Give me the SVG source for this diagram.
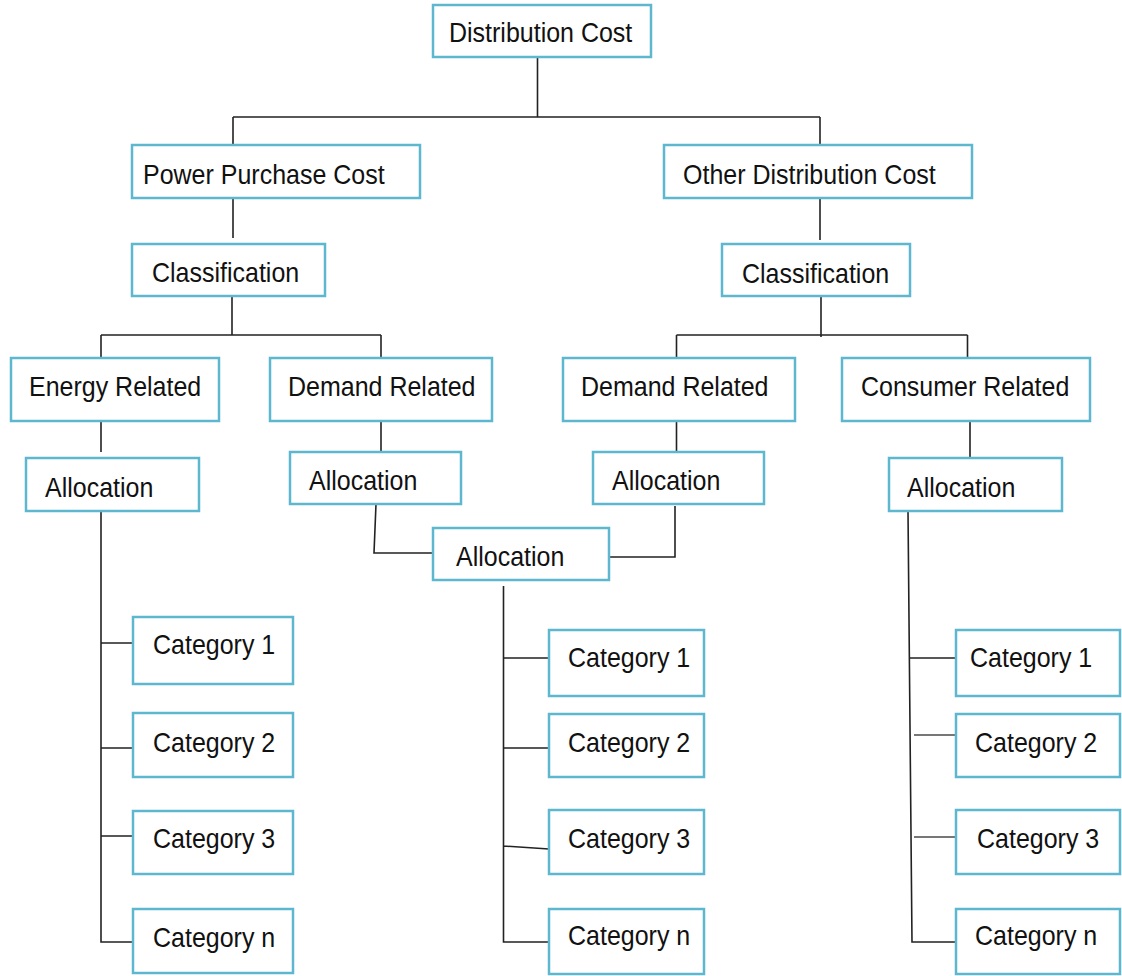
<svg xmlns="http://www.w3.org/2000/svg" width="1122" height="976" viewBox="0 0 1122 976">
<style>
.box{fill:#fff;stroke:#5db7cf;stroke-width:2.5}
.lbl{font-family:"Liberation Sans",Arial,sans-serif;font-size:25px;fill:#111}
.ln{fill:none;stroke:#222;stroke-width:1.6}
.lg{fill:none;stroke:#777;stroke-width:2}
</style>
<rect width="1122" height="976" fill="#fff"/>
<g id="connectors">
<path class="ln" d="M537.5 57V117M233 117H820M233 117V145M820 117V145"/>
<path class="ln" d="M233 191V238M820 192V240"/>
<path class="ln" d="M232 296V335M101 335H381M101 335V358M381 335V358"/>
<path class="ln" d="M821 296V337M676.5 335H967.5M676.5 335V358M967.5 335V358"/>
<path class="ln" d="M101 413V452M381 413V452M676.5 414V452M970 419V457"/>
<path class="ln" d="M376 504L374 553H433"/>
<path class="ln" d="M675 506V557H609"/>
<path class="ln" d="M101 511V942H133M101 643H133M101 748H133M101 836H133"/>
<path class="ln" d="M503.5 586V942H549M503.5 658H549M503.5 748H549M503.5 846L549 849"/>
<path class="ln" d="M908 511L912 942H956M909 658H956"/>
<path class="lg" d="M914 735H956M914 837H956"/>
</g>
<g id="n-dist"><rect class="box" x="433" y="5" width="218" height="52"/><text class="lbl" transform="translate(449 42) scale(1 1.1)">Distribution Cost</text></g>
<g id="n-ppc"><rect class="box" x="132" y="145" width="288" height="53"/><text class="lbl" transform="translate(143 184) scale(1 1.1)">Power Purchase Cost</text></g>
<g id="n-odc"><rect class="box" x="664" y="145" width="308" height="53"/><text class="lbl" transform="translate(683 184) scale(1 1.1)">Other Distribution Cost</text></g>
<g id="n-clsL"><rect class="box" x="132" y="244" width="193" height="52"/><text class="lbl" transform="translate(152 282) scale(1 1.1)">Classification</text></g>
<g id="n-clsR"><rect class="box" x="722" y="244" width="188" height="52"/><text class="lbl" transform="translate(742 283) scale(1 1.1)">Classification</text></g>
<g id="n-energy"><rect class="box" x="11" y="358" width="208" height="63"/><text class="lbl" transform="translate(29 396) scale(1 1.1)">Energy Related</text></g>
<g id="n-demandL"><rect class="box" x="270" y="358" width="222" height="63"/><text class="lbl" transform="translate(288 396) scale(1 1.1)">Demand Related</text></g>
<g id="n-demandR"><rect class="box" x="563" y="358" width="232" height="63"/><text class="lbl" transform="translate(581 396) scale(1 1.1)">Demand Related</text></g>
<g id="n-consumer"><rect class="box" x="842" y="358" width="248" height="63"/><text class="lbl" transform="translate(861 396) scale(1 1.1)">Consumer Related</text></g>
<g id="n-allocL1"><rect class="box" x="26" y="458" width="173" height="53"/><text class="lbl" transform="translate(45 497) scale(1 1.1)">Allocation</text></g>
<g id="n-allocL2"><rect class="box" x="290" y="452" width="171" height="52"/><text class="lbl" transform="translate(309 490) scale(1 1.1)">Allocation</text></g>
<g id="n-allocR1"><rect class="box" x="593" y="452" width="171" height="52"/><text class="lbl" transform="translate(612 490) scale(1 1.1)">Allocation</text></g>
<g id="n-allocR2"><rect class="box" x="889" y="458" width="173" height="53"/><text class="lbl" transform="translate(907 497) scale(1 1.1)">Allocation</text></g>
<g id="n-allocC"><rect class="box" x="433" y="528" width="176" height="52"/><text class="lbl" transform="translate(456 566) scale(1 1.1)">Allocation</text></g>
<g id="n-catL1"><rect class="box" x="133" y="617" width="160" height="67"/><text class="lbl" transform="translate(153 654) scale(1 1.1)">Category 1</text></g>
<g id="n-catL2"><rect class="box" x="133" y="713" width="160" height="64"/><text class="lbl" transform="translate(153 752) scale(1 1.1)">Category 2</text></g>
<g id="n-catL3"><rect class="box" x="133" y="811" width="160" height="63"/><text class="lbl" transform="translate(153 848) scale(1 1.1)">Category 3</text></g>
<g id="n-catLn"><rect class="box" x="133" y="909" width="160" height="64"/><text class="lbl" transform="translate(153 947) scale(1 1.1)">Category n</text></g>
<g id="n-catM1"><rect class="box" x="549" y="630" width="155" height="66"/><text class="lbl" transform="translate(568 667) scale(1 1.1)">Category 1</text></g>
<g id="n-catM2"><rect class="box" x="549" y="714" width="155" height="63"/><text class="lbl" transform="translate(568 752) scale(1 1.1)">Category 2</text></g>
<g id="n-catM3"><rect class="box" x="549" y="810" width="155" height="64"/><text class="lbl" transform="translate(568 848) scale(1 1.1)">Category 3</text></g>
<g id="n-catMn"><rect class="box" x="549" y="909" width="155" height="65"/><text class="lbl" transform="translate(568 945) scale(1 1.1)">Category n</text></g>
<g id="n-catR1"><rect class="box" x="956" y="630" width="164" height="66"/><text class="lbl" transform="translate(970 667) scale(1 1.1)">Category 1</text></g>
<g id="n-catR2"><rect class="box" x="956" y="714" width="164" height="63"/><text class="lbl" transform="translate(975 752) scale(1 1.1)">Category 2</text></g>
<g id="n-catR3"><rect class="box" x="956" y="810" width="164" height="64"/><text class="lbl" transform="translate(977 848) scale(1 1.1)">Category 3</text></g>
<g id="n-catRn"><rect class="box" x="956" y="909" width="164" height="65"/><text class="lbl" transform="translate(975 945) scale(1 1.1)">Category n</text></g>
</svg>
